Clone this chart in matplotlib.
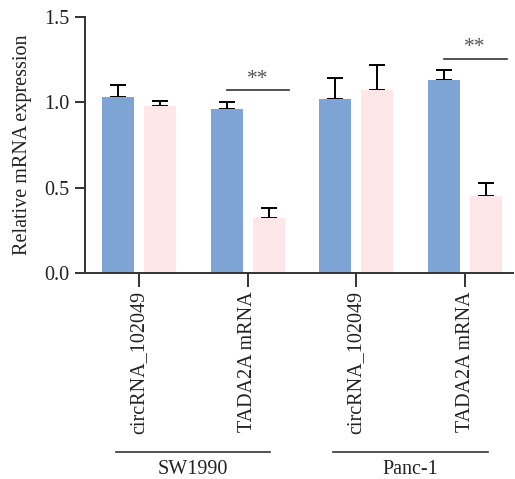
import matplotlib
matplotlib.use("Agg")
import matplotlib.pyplot as plt
import matplotlib.transforms as mtransforms
import numpy as np

plt.rcParams['font.family'] = ['Liberation Serif', 'DejaVu Serif']

# Data
genes = ["circRNA_102049", "TADA2A mRNA", "circRNA_102049", "TADA2A mRNA"]
cell_lines = ["SW1990", "Panc-1"]
control_mean = [1.03, 0.96, 1.02, 1.13]
control_err = [0.07, 0.04, 0.12, 0.06]
treated_mean = [0.98, 0.32, 1.07, 0.45]
treated_err = [0.03, 0.06, 0.15, 0.08]
signif_idx = [1, 3]
signif_y = [1.07, 1.255]
signif_text = "**"

blue = "#7DA4D5"
pink = "#FFE6E9"
axis_col = "#333333"

fig = plt.figure(figsize=(5.15, 4.79), dpi=100)
ax = fig.add_axes([0.165, 0.43, 0.831, 0.5345])

x = np.arange(len(genes))
w = 0.294
off = 0.193
ekw = dict(ecolor="black", elinewidth=1.4, capsize=5.5, capthick=1.4)
ax.bar(x - off, control_mean, w, color=blue, zorder=2)
ax.bar(x + off, treated_mean, w, color=pink, zorder=2)
ax.errorbar(x - off, control_mean, yerr=[np.zeros(len(x)), control_err],
            fmt="none", zorder=1, **ekw)
ax.errorbar(x + off, treated_mean, yerr=[np.zeros(len(x)), treated_err],
            fmt="none", zorder=1, **ekw)

# Significance markers
for i, y in zip(signif_idx, signif_y):
    ax.plot([i - 0.19, i + 0.385], [y, y], color=axis_col, lw=1.2, clip_on=False)
    ax.text(i + 0.09, y + 0.065, signif_text, ha="center", va="center",
            fontsize=15.5, color="#555555")

ax.set_xlim(-0.495, 3.44)
ax.set_ylim(0, 1.5)
ax.set_yticks([0.0, 0.5, 1.0, 1.5])
ax.set_yticklabels(["0.0", "0.5", "1.0", "1.5"])
ax.set_xticks(x)
ax.set_xticklabels(genes, rotation=90, va="top", ha="center")
ax.tick_params(axis="both", labelsize=14.5, colors="#222222")
ax.tick_params(axis="y", length=7, width=1.4, color=axis_col, pad=4)
ax.tick_params(axis="x", length=10, width=1.4, color=axis_col, pad=3)

for s in ["top", "right"]:
    ax.spines[s].set_visible(False)
for s in ["left", "bottom"]:
    ax.spines[s].set_color(axis_col)
    ax.spines[s].set_linewidth(1.4)

ax.set_ylabel("Relative mRNA expression", fontsize=14.5, color="#222222", labelpad=9)

# Cell line group labels under the tick labels
trans = mtransforms.blended_transform_factory(ax.transData, fig.transFigure)
for k, name in enumerate(cell_lines):
    c = 2 * k + 0.5
    ax.plot([c - 0.71, c + 0.71], [0.0564, 0.0564], transform=trans,
            color=axis_col, lw=1.2, clip_on=False)
    ax.text(c, 0.0400, name, transform=trans, ha="center", va="top",
            fontsize=14.5, color="#222222")

fig.savefig("out.png", dpi=100)
